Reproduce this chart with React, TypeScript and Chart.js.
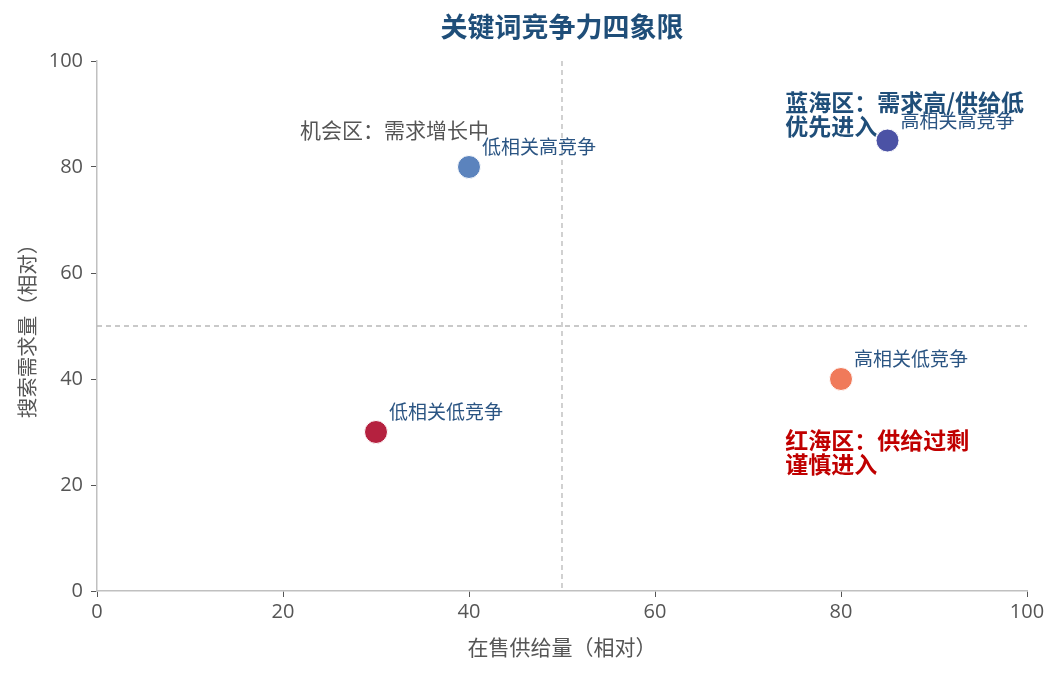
import { useEffect, useRef } from 'react';
import { Chart, registerables } from 'chart.js';

Chart.register(...registerables);

// keyword points: x = supply (relative), y = search demand (relative)
const pointNames = ['低相关高竞争', '高相关高竞争', '低相关低竞争', '高相关低竞争'];
const supplyValues = [40, 85, 30, 80];
const demandValues = [80, 85, 30, 40];
const pointColors = ['#5b83bd', '#4b52a5', '#b5213f', '#f07a5a'];

const chartTitle = '关键词竞争力四象限';
const xAxisTitle = '在售供给量（相对）';
const yAxisTitle = '搜索需求量（相对）';

// quadrant notes, anchored in data units
const noteLines = [
  ['机会区：需求增长中'],
  ['蓝海区：需求高/供给低', '优先进入'],
  ['红海区：供给过剩', '谨慎进入'],
];
const noteX = [32, 74, 74];
const noteY = [87, 92.3, 28.5];
const noteColors = ['#555555', '#1f4e79', '#c00000'];
const noteBold = [false, true, true];
const noteAlign = ['center', 'left', 'left'];

const splitX = 50;
const splitY = 50;

const FONT = "'Open Sans', 'Noto Sans CJK SC', sans-serif";
const CJK = "'Noto Sans CJK SC', sans-serif";

const overlayPlugin = {
  id: 'quadrantOverlay',
  beforeDatasetsDraw(chart) {
    const { ctx, chartArea, scales } = chart;
    const x = scales.x;
    const y = scales.y;
    ctx.save();
    ctx.strokeStyle = '#b8b8b8';
    ctx.lineWidth = 1.3;
    ctx.setLineDash([5, 4]);
    ctx.beginPath();
    ctx.moveTo(x.getPixelForValue(splitX), chartArea.top);
    ctx.lineTo(x.getPixelForValue(splitX), chartArea.bottom);
    ctx.moveTo(chartArea.left, y.getPixelForValue(splitY));
    ctx.lineTo(chartArea.right, y.getPixelForValue(splitY));
    ctx.stroke();
    ctx.restore();
  },
  afterDatasetsDraw(chart) {
    const { ctx, chartArea, scales } = chart;
    const x = scales.x;
    const y = scales.y;
    ctx.save();
    ctx.textBaseline = 'middle';

    // title
    ctx.font = 'bold 27px ' + CJK;
    ctx.fillStyle = '#1f4e79';
    ctx.textAlign = 'center';
    ctx.fillText(chartTitle, (chartArea.left + chartArea.right) / 2, 19);

    // point labels
    ctx.font = '19px ' + CJK;
    ctx.fillStyle = '#2b5583';
    ctx.textAlign = 'left';
    pointNames.forEach((name, i) => {
      ctx.fillText(name, x.getPixelForValue(supplyValues[i]) + 13, y.getPixelForValue(demandValues[i]) - 20);
    });

    // quadrant notes
    noteLines.forEach((lines, i) => {
      ctx.font = (noteBold[i] ? 'bold 23px ' : '21px ') + CJK;
      ctx.fillStyle = noteColors[i];
      ctx.textAlign = noteAlign[i] as CanvasTextAlign;
      const px = x.getPixelForValue(noteX[i]);
      const py = y.getPixelForValue(noteY[i]);
      lines.forEach((t, j) => ctx.fillText(t, px, py + j * 24.5));
    });
    ctx.restore();
  },
};

export default function App() {
  const canvasRef = useRef<HTMLCanvasElement>(null);

  useEffect(() => {
    if (!canvasRef.current) return;
    const chart = new Chart(canvasRef.current, {
      type: 'scatter',
      data: {
        datasets: [
          {
            data: supplyValues.map((v, i) => ({ x: v, y: demandValues[i] })),
            backgroundColor: pointColors,
            borderColor: '#ffffff',
            borderWidth: 1,
            pointRadius: 11.5,
          },
        ],
      },
      options: {
        responsive: true,
        maintainAspectRatio: false,
        animation: false,
        layout: { padding: { top: 53, right: 24, left: 0, bottom: 0 } },
        plugins: {
          legend: { display: false },
          tooltip: { enabled: false },
        },
        scales: {
          x: {
            min: 0,
            max: 100,
            border: { color: '#c0c0c0', width: 1.5 },
            grid: { drawOnChartArea: false, tickLength: 6, color: '#555555' },
            ticks: { stepSize: 20, color: '#555555', padding: 3, font: { family: FONT, size: 20 } },
            title: {
              display: true,
              text: xAxisTitle,
              color: '#555555',
              padding: { top: 0, bottom: 6.5 },
              font: { family: CJK, size: 21 },
            },
            afterFit: (s) => { s.height = 75; },
          },
          y: {
            min: 0,
            max: 100,
            border: { color: '#c0c0c0', width: 1.5 },
            grid: { drawOnChartArea: false, tickLength: 6, color: '#555555' },
            ticks: { stepSize: 20, color: '#555555', padding: 8, font: { family: FONT, size: 20 } },
            title: {
              display: true,
              text: yAxisTitle,
              color: '#555555',
              padding: { top: 6.5, bottom: 0 },
              font: { family: CJK, size: 20.5 },
            },
            afterFit: (s) => { s.width = 89; },
          },
        },
      },
      plugins: [overlayPlugin],
    });
    return () => chart.destroy();
  }, []);

  return (
    <div style={{ width: '100%', height: '658px', position: 'relative' }}>
      <canvas ref={canvasRef}></canvas>
    </div>
  );
}
